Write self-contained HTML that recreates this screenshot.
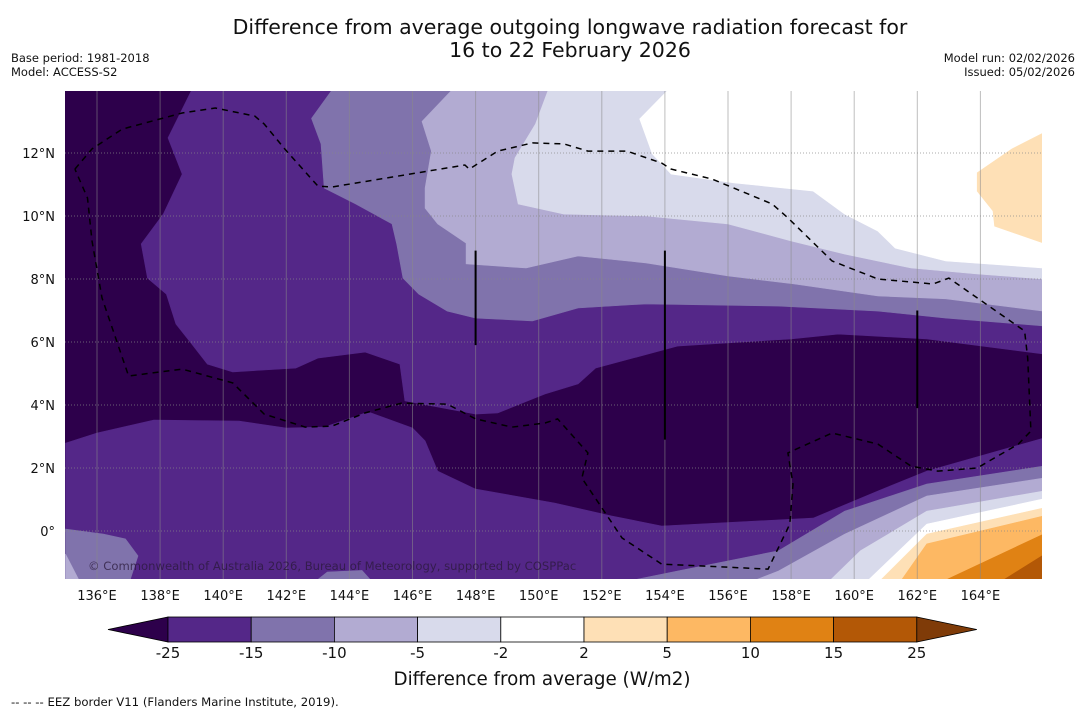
<!DOCTYPE html>
<html><head><meta charset="utf-8"><style>
body{margin:0;background:#fff;font-family:"DejaVu Sans","Liberation Sans",sans-serif;}
#wrap{position:relative;width:1085px;height:713px;overflow:hidden;background:#fff}
svg text{font-family:"DejaVu Sans","Liberation Sans",sans-serif;}
</style></head><body>
<div id="wrap">
<svg id="svg" width="1085" height="713">
<text x="570" y="34" font-size="20.5" text-anchor="middle" fill="#111">Difference from average outgoing longwave radiation forecast for</text>
<text x="570" y="57" font-size="20.5" text-anchor="middle" fill="#111">16 to 22 February 2026</text>
<text x="11" y="62" font-size="11.5" fill="#111">Base period: 1981-2018</text>
<text x="11" y="76" font-size="11.5" fill="#111">Model: ACCESS-S2</text>
<text x="1075" y="62" font-size="11.5" fill="#111" text-anchor="end">Model run: 02/02/2026</text>
<text x="1075" y="76" font-size="11.5" fill="#111" text-anchor="end">Issued: 05/02/2026</text>
<g id="map"></g>
<g id="cbar"></g>
<text x="542" y="685" font-size="18.3" text-anchor="middle" fill="#111">Difference from average (W/m2)</text>
<text x="11" y="706" font-size="11.7" fill="#111">--  --  -- EEZ border V11 (Flanders Marine Institute, 2019).</text>
</svg>
</div>
<script>
const levelLabels=["-25","-15","-10","-5","-2","2","5","10","15","25"];
const levelColors=["#2d004b","#542788","#8073ac","#b2abd2","#d8daeb","#ffffff","#fee0b6","#fdb863","#e08214","#b35806","#7f3b08"];
const lonTicks=[136,138,140,142,144,146,148,150,152,154,156,158,160,162,164];
const latTicks=[0,2,4,6,8,10,12];
const regionNorthA=[[166,14],[166,5.62],[162.3,6.1],[159.5,6.25],[158,6.1],[154.4,5.87],[151.8,5.17],[151.25,4.67],[150.2,4.35],[149.8,4.19],[148.7,3.75],[148,3.71],[145.76,4.13],[145.6,5.3],[144.5,5.68],[143,5.49],[142.3,5.17],[140.3,5.05],[139.5,5.3],[139,5.94],[138.5,6.57],[138.2,7.52],[137.6,8.03],[137.4,9.11],[138.1,10.06],[138.7,11.33],[138.25,12.48],[139,14]];
const regionSouthA=[[135,2.79],[136,3.11],[137.8,3.52],[140.5,3.49],[142,3.27],[143.2,3.3],[144.6,3.78],[146,3.27],[146.4,2.86],[146.8,1.9],[148,1.33],[150.5,0.89],[152.3,0.48],[153.9,0.16],[158.7,0.41],[160.75,1.27],[162.3,1.9],[166,2.95],[166,-1.7],[135,-1.7]];
const regionNorthB=[[143.45,14],[142.8,13.1],[143.1,12.29],[143.2,10.89],[144.2,10.38],[145.35,9.75],[145.5,9.11],[145.7,8.03],[146.2,7.52],[147.1,6.98],[148,6.76],[149.8,6.67],[151.25,7.08],[153.4,7.21],[157.6,7.14],[160.75,6.98],[162.9,6.76],[166,6.51],[166,14]];
const regionNorthC=[[147.25,14],[146.3,13],[146.6,12.06],[146.4,10.89],[146.4,10.25],[146.8,9.75],[147.7,9.14],[147.7,8.48],[149.6,8.35],[150.8,8.63],[151.25,8.73],[153.4,8.51],[156,8.1],[158.1,7.84],[160.75,7.46],[162.9,7.37],[166,6.98],[166,14]];
const regionNorthD=[[150.3,14],[149.9,12.92],[149.25,11.84],[149.15,11.33],[149.35,10.38],[150.8,10.06],[153.4,10],[156,9.75],[158,9.21],[159.7,8.79],[161.8,8.35],[163.9,8.16],[166,8],[166,14]];
const regionNorthE=[[154.1,14],[153.2,13.08],[153.6,11.97],[154.2,11.33],[156.2,11.05],[158.7,10.79],[159.7,10.06],[160.75,9.52],[161.3,8.98],[162.9,8.57],[166,8.35],[166,14]];
const regionNorthF=[[166,12.64],[165,12.13],[163.9,11.37],[163.9,10.79],[164.4,10.16],[164.45,9.68],[166,9.14]];
const regionSE_B=[[166,2.06],[162.3,1.49],[159.7,0.63],[157.6,-0.63],[154.4,-1.27],[152.3,-1.7],[166,-1.7]];
const regionSE_C=[[166,1.68],[162.3,1.11],[159.7,-0.1],[157.6,-1.27],[156.5,-1.7],[166,-1.7]];
const regionSE_D=[[166,1.27],[162.3,0.63],[160.2,-0.63],[159.1,-1.7],[166,-1.7]];
const regionSE_E=[[166,1.02],[162.3,0.22],[160.3,-1.7],[166,-1.7]];
const regionSE_F=[[166,0.73],[162.3,-0.1],[160.7,-1.7],[166,-1.7]];
const regionSE_G=[[166,0.48],[162.3,-0.41],[161.4,-1.7],[166,-1.7]];
const regionSE_H=[[166,-0.1],[162.6,-1.7],[166,-1.7]];
const regionSE_I=[[166,-0.76],[164.5,-1.7],[166,-1.7]];
const regionSW_B=[[135,0.06],[136.2,-0.1],[136.9,-0.25],[137.3,-0.79],[137,-1.7],[135,-1.7]];
const regionSW_C=[[135,-0.73],[135.5,-1.7],[135,-1.7]];
const regionS_patch=[[142.8,-1.7],[143.3,-1.3],[144.4,-1.25],[144.8,-1.7]];
const eezLine=[[135.3,11.49],[135.84,12.13],[136.8,12.76],[138.7,13.27],[139.75,13.43],[141,13.17],[141.3,12.92],[141.95,12.13],[143,10.95],[143.45,10.92],[147.66,11.62],[147.8,11.49],[148.7,12.06],[149.8,12.32],[150.8,12.29],[151.56,12.06],[152.8,12.06],[153.9,11.68],[154.2,11.49],[155.5,11.17],[157.4,10.38],[157.9,9.94],[159.3,8.57],[160.75,8],[162.5,7.84],[163,8.03],[165.4,6.35],[165.5,5.49],[165.6,3.17],[165.2,2.76],[163.9,2],[162.65,1.9],[161.8,2.06],[160.75,2.76],[159.3,3.11],[157.9,2.48],[158.06,1.49],[157.96,0.22],[157.27,-1.21],[153.9,-1.05],[152.64,-0.22],[151.37,1.68],[151.56,2.48],[150.6,3.56],[150.2,3.43],[149.15,3.3],[148,3.56],[147.1,4.03],[145.65,4.06],[144.5,3.75],[143.45,3.33],[142.6,3.3],[141.3,3.71],[140.3,4.7],[138.7,5.14],[137,4.92],[136.16,7.4],[135.84,9.21],[135.7,10.57],[135.3,11.49]];
const meridianLines=[[148,8.9,5.9],[154,8.9,2.9],[162,7,3.9]];

const NS="http://www.w3.org/2000/svg";
const X0=65,X1=1042,Y0=91,Y1=579;
function xs(lon){return 97+(lon-136)*31.55;}
function ys(lat){return 531-lat*31.5;}
function mk(t,a,p){const e=document.createElementNS(NS,t);for(const k in a)e.setAttribute(k,a[k]);(p||map).appendChild(e);return e;}
const map=document.getElementById('map');
const cb=document.getElementById('cbar');
const svg=document.getElementById('svg');
const defs=mk('defs',{},svg);
const cp=mk('clipPath',{id:'clip'},defs);
mk('rect',{x:X0,y:Y0,width:X1-X0,height:Y1-Y0},cp);
map.setAttribute('clip-path','url(#clip)');
const bg=mk('rect',{x:X0,y:Y0,width:X1-X0,height:Y1-Y0,fill:levelColors[0]});


function pts(a){return a.map(p=>xs(p[0]).toFixed(1)+','+ys(p[1]).toFixed(1)).join(' ');}
const regions=[[regionNorthA,1,'north-minus25-to-15'],[regionSouthA,1,'south-minus25-to-15'],[regionNorthB,2,'north-minus15-to-10'],[regionNorthC,3,'north-minus10-to-5'],[regionNorthD,4,'north-minus5-to-2'],[regionNorthE,5,'north-near-average'],[regionNorthF,6,'north-plus2-to-5'],[regionSE_B,2,'se-minus15-to-10'],[regionSE_C,3,'se-minus10-to-5'],[regionSE_D,4,'se-minus5-to-2'],[regionSE_E,5,'se-near-average'],[regionSE_F,6,'se-plus2-to-5'],[regionSE_G,7,'se-plus5-to-10'],[regionSE_H,8,'se-plus10-to-15'],[regionSE_I,9,'se-plus15-to-25'],[regionSW_B,2,'sw-minus15-to-10'],[regionSW_C,3,'sw-minus10-to-5'],[regionS_patch,2,'south-patch']];
regions.forEach(r=>{
 const p=mk('polygon',{points:pts(r[0]),fill:levelColors[r[1]],stroke:levelColors[r[1]],'stroke-width':0.6});
 
 
});
lonTicks.forEach(l=>{
 const g=mk('line',{x1:xs(l),x2:xs(l),y1:Y0,y2:Y1,stroke:'#888','stroke-opacity':0.55,'stroke-width':1});
 
 
 const t=mk('text',{x:xs(l),y:600,'font-size':13,'text-anchor':'middle',fill:'#111'},svg);
 t.textContent=l+'°E';
 
 
});
latTicks.forEach(l=>{
 const g=mk('line',{x1:X0,x2:X1,y1:ys(l),y2:ys(l),stroke:'#888','stroke-opacity':0.7,'stroke-width':1,'stroke-dasharray':'1,2'});
 
 
 const t=mk('text',{x:55,y:ys(l)+5,'font-size':13,'text-anchor':'end',fill:'#111'},svg);
 t.textContent=l===0?'0°':l+'°N';
 
 
});
meridianLines.forEach(m=>{
 const l=mk('line',{x1:xs(m[0]),x2:xs(m[0]),y1:ys(m[1]),y2:ys(m[2]),stroke:'#000','stroke-width':2});
 
 
});
const eez=mk('polyline',{points:pts(eezLine),fill:'none',stroke:'#000','stroke-width':1.5,'stroke-dasharray':'6,5'});


const cr=mk('text',{x:88,y:570,'font-size':11.6,fill:'#2a1a3a','fill-opacity':0.75});
cr.textContent='© Commonwealth of Australia 2026, Bureau of Meteorology, supported by COSPPac';


const cbX0=168,cbW=83.2,cbY=617,cbH=25;
const tl=mk('polygon',{points:`108,${cbY+cbH/2} ${cbX0},${cbY} ${cbX0},${cbY+cbH}`,fill:levelColors[0],stroke:'#000','stroke-width':0.8},cb);


for(let i=0;i<levelLabels.length-1;i++){
 const r=mk('rect',{x:cbX0+i*cbW,y:cbY,width:cbW,height:cbH,fill:levelColors[i+1],stroke:'#000','stroke-width':0.8},cb);
 
 
}
const endX=cbX0+(levelLabels.length-1)*cbW;
const tr=mk('polygon',{points:`${endX},${cbY} ${endX+60},${cbY+cbH/2} ${endX},${cbY+cbH}`,fill:levelColors[10],stroke:'#000','stroke-width':0.8},cb);


levelLabels.forEach((s,i)=>{
 const t=mk('text',{x:cbX0+i*cbW,y:658,'font-size':15,'text-anchor':'middle',fill:'#111'},cb);
 t.textContent=s;
 
 
});
</script>
</body></html>
